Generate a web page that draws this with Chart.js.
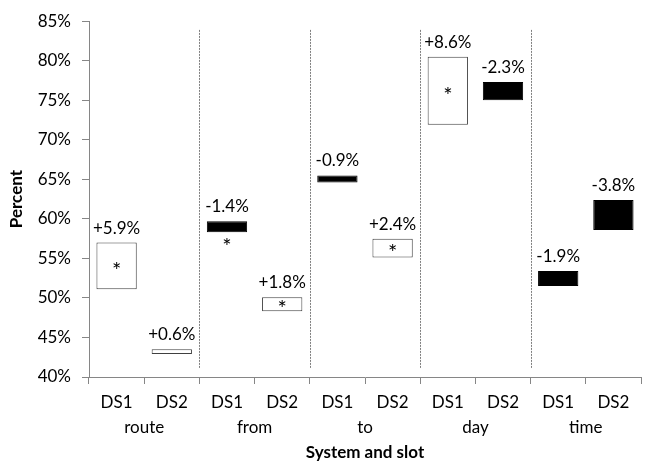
<!DOCTYPE html>
<html>
<head>
<meta charset="utf-8">
<script src="https://cdn.jsdelivr.net/npm/chart.js@4.4.1/dist/chart.umd.min.js"></script>
<style>
  html, body { margin: 0; padding: 0; background: #ffffff; }
  canvas { display: block; }
</style>
</head>
<body>
<canvas id="chart" width="652" height="463"></canvas>
<script>
// Slots and systems along the x axis
const slots = ['route', 'from', 'to', 'day', 'time'];
const systems = ['DS1', 'DS2'];

// Starting percentage for each system/slot pair, in slot order (DS1, DS2, DS1, DS2, ...)
const baseline = [51.1, 42.9, 59.7, 48.3, 65.5, 55.1, 71.9, 77.3, 53.4, 62.4];
// Change in percentage points
const change = [5.9, 0.6, -1.4, 1.8, -0.9, 2.4, 8.6, -2.3, -1.9, -3.8];
// Changes marked with an asterisk
const significant = [true, false, true, true, false, true, true, false, false, false];

// Y axis ticks (percent)
const yTicks = [40, 45, 50, 55, 60, 65, 70, 75, 80, 85];
// Extent of the dashed separators between slots (percent)
const separatorSpan = [41.1, 83.9];

const categories = slots.flatMap(() => systems);
const ends = baseline.map((b, i) => Math.round((b + change[i]) * 10) / 10);
const bars = baseline.map((b, i) => [b, ends[i]]);

const FONT = 'Lato, "DejaVu Sans", sans-serif';
const AXIS_GREY = '#868686';

const fmtChange = v => (v > 0 ? '+' : '') + v.toFixed(1) + '%';

// Dashed separators between slot groups, change labels and asterisks
const annotations = {
  id: 'annotations',
  afterDatasetsDraw(chart) {
    const { ctx } = chart;
    const x = chart.scales.x;
    const y = chart.scales.y;
    ctx.save();

    // separators
    ctx.strokeStyle = '#7f7f7f';
    ctx.lineWidth = 1;
    ctx.setLineDash([2, 1]);
    for (let i = 1; i < categories.length - 1; i += 2) {
      const px = Math.round((x.getPixelForValue(i) + x.getPixelForValue(i + 1)) / 2) + 0.5;
      ctx.beginPath();
      ctx.moveTo(px, y.getPixelForValue(separatorSpan[1]));
      ctx.lineTo(px, y.getPixelForValue(separatorSpan[0]));
      ctx.stroke();
    }
    ctx.setLineDash([]);

    ctx.fillStyle = '#000000';
    ctx.textAlign = 'center';
    ctx.textBaseline = 'alphabetic';
    const meta = chart.getDatasetMeta(0);
    meta.data.forEach((bar, i) => {
      const top = y.getPixelForValue(Math.max(baseline[i], ends[i]));
      const bottom = y.getPixelForValue(Math.min(baseline[i], ends[i]));
      ctx.font = '17px ' + FONT;
      ctx.fillText(fmtChange(change[i]), bar.x, top - 9);
      if (significant[i]) {
        const cy = change[i] > 0 ? (top + bottom) / 2 : bottom + 10;
        ctx.font = '22px ' + FONT;
        ctx.fillText('*', bar.x, cy + 12);
      }
    });
    ctx.restore();
  }
};

new Chart(document.getElementById('chart'), {
  type: 'bar',
  data: {
    labels: categories,
    datasets: [{
      data: bars,
      backgroundColor: change.map(c => c > 0 ? '#ffffff' : '#000000'),
      borderColor: change.map(c => c > 0 ? '#404040' : '#000000'),
      borderWidth: 1,
      borderSkipped: false,
      barPercentage: 0.73,
      categoryPercentage: 1
    }]
  },
  options: {
    responsive: false,
    animation: false,
    layout: { padding: { top: 16, right: 11, left: 0, bottom: 0 } },
    plugins: { legend: { display: false }, tooltip: { enabled: false } },
    scales: {
      x: {
        type: 'category',
        position: 'bottom',
        weight: 0,
        grid: { display: true, drawOnChartArea: false, drawTicks: true, tickLength: 7, color: AXIS_GREY, offset: true },
        border: { display: true, color: AXIS_GREY },
        ticks: { color: '#000000', font: { family: FONT, size: 17 }, padding: 8, maxRotation: 0, autoSkip: false },
        afterFit: s => { s.height = 36; }
      },
      x2: {
        type: 'category',
        position: 'bottom',
        weight: 1,
        labels: slots,
        offset: true,
        grid: { display: false, drawTicks: false },
        border: { display: false },
        ticks: { color: '#000000', font: { family: FONT, size: 17 }, padding: 4, maxRotation: 0, autoSkip: false },
        title: { display: true, text: 'System and slot', color: '#000000', font: { family: FONT, size: 17, weight: 'bold' }, padding: { top: 0, bottom: 0 } },
        afterFit: s => { s.height = 50; }
      },
      y: {
        min: yTicks[0],
        max: yTicks[yTicks.length - 1],
        afterBuildTicks: s => { s.ticks = yTicks.map(v => ({ value: v })); },
        grid: { display: true, drawOnChartArea: false, drawTicks: true, tickLength: 7, color: AXIS_GREY },
        border: { display: true, color: AXIS_GREY },
        ticks: { color: '#000000', font: { family: FONT, size: 17 }, padding: 11, callback: v => v + '%' },
        title: { display: true, text: 'Percent', color: '#000000', font: { family: FONT, size: 17, weight: 'bold' }, padding: { top: 6, bottom: 0 } },
        afterFit: s => { s.width = 89; }
      }
    }
  },
  plugins: [annotations]
});
</script>
</body>
</html>
